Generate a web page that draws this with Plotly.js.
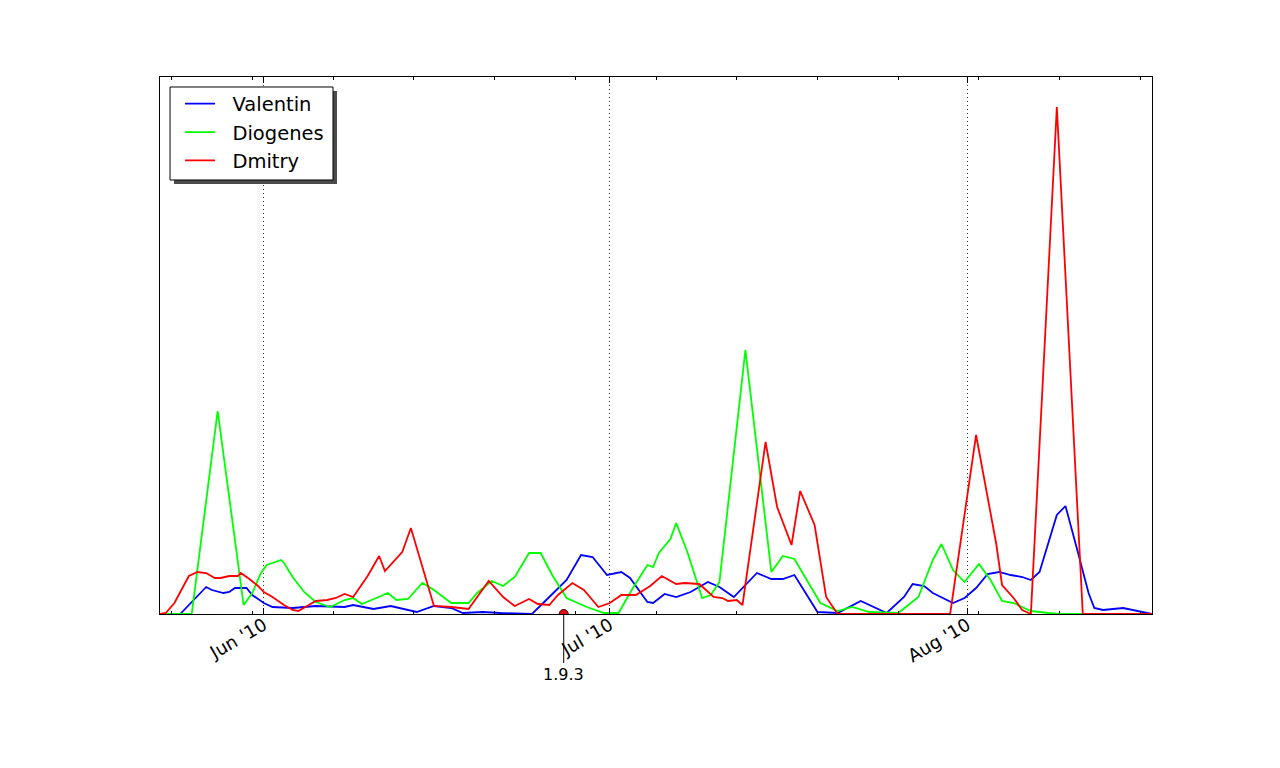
<!DOCTYPE html>
<html>
<head>
<meta charset="utf-8">
<script src="https://cdn.plot.ly/plotly-3.0.1.min.js"></script>
<style>
  html, body { margin: 0; padding: 0; background: #fff; }
  #chart { width: 1280px; height: 768px; }
</style>
</head>
<body>
<div id="chart"></div>
<script>
  // activity per author (no unit shown on the axis)
  var valentinDates = ['2010-05-23 00:00','2010-05-24 18:00','2010-05-27 00:00','2010-05-27 12:00','2010-05-28 12:00','2010-05-29 00:00','2010-05-29 12:00','2010-05-30 12:00','2010-05-31 00:00','2010-06-01 00:00','2010-06-01 18:00','2010-06-03 12:00','2010-06-05 12:00','2010-06-08 00:00','2010-06-08 18:00','2010-06-10 12:00','2010-06-12 00:00','2010-06-13 12:00','2010-06-14 06:00','2010-06-15 18:00','2010-06-17 06:00','2010-06-18 06:00','2010-06-20 00:00','2010-06-21 12:00','2010-06-24 06:00','2010-06-25 18:00','2010-06-27 06:00','2010-06-28 12:00','2010-06-29 12:00','2010-06-30 18:00','2010-07-02 00:00','2010-07-02 18:00','2010-07-04 06:00','2010-07-04 18:00','2010-07-05 18:00','2010-07-06 18:00','2010-07-08 00:00','2010-07-09 12:00','2010-07-10 12:00','2010-07-11 18:00','2010-07-12 12:00','2010-07-13 18:00','2010-07-15 00:00','2010-07-16 00:00','2010-07-17 00:00','2010-07-19 00:00','2010-07-20 18:00','2010-07-22 18:00','2010-07-25 00:00','2010-07-26 12:00','2010-07-27 06:00','2010-07-28 06:00','2010-07-29 00:00','2010-07-30 18:00','2010-07-31 18:00','2010-08-01 18:00','2010-08-02 18:00','2010-08-03 18:00','2010-08-04 18:00','2010-08-05 18:00','2010-08-06 12:00','2010-08-07 06:00','2010-08-08 18:00','2010-08-09 12:00','2010-08-10 12:00','2010-08-11 12:00','2010-08-12 00:00','2010-08-12 18:00','2010-08-14 12:00','2010-08-16 12:00','2010-08-17 00:00'];
  var valentinValues = [0,0,27,24,21,22,26,26,19,11,7,6,8,7,9,5,8,4,2,8,6,1,2,1,0,17,34,59,57,39,42,36,12,11,20,17,22,32,27,17,26,41,35,35,39,2,1,13,1,17,30,28,21,11,16,26,40,42,39,37,34,42,99,108,65,21,6,4,6,1,0];

  var diogenesDates = ['2010-05-23 00:00','2010-05-25 18:00','2010-05-28 00:00','2010-05-30 06:00','2010-05-31 00:00','2010-05-31 18:00','2010-06-01 06:00','2010-06-02 12:00','2010-06-02 18:00','2010-06-03 12:00','2010-06-04 12:00','2010-06-05 12:00','2010-06-06 18:00','2010-06-08 00:00','2010-06-08 18:00','2010-06-09 12:00','2010-06-10 18:00','2010-06-11 18:00','2010-06-12 12:00','2010-06-13 12:00','2010-06-14 18:00','2010-06-15 18:00','2010-06-17 06:00','2010-06-18 18:00','2010-06-19 12:00','2010-06-20 18:00','2010-06-21 18:00','2010-06-22 18:00','2010-06-24 00:00','2010-06-25 00:00','2010-06-26 00:00','2010-06-27 06:00','2010-06-29 00:00','2010-06-30 12:00','2010-07-01 18:00','2010-07-03 00:00','2010-07-04 06:00','2010-07-04 18:00','2010-07-05 06:00','2010-07-06 06:00','2010-07-06 18:00','2010-07-07 18:00','2010-07-09 00:00','2010-07-09 18:00','2010-07-10 12:00','2010-07-12 18:00','2010-07-15 00:00','2010-07-16 00:00','2010-07-17 00:00','2010-07-19 06:00','2010-07-20 18:00','2010-07-22 00:00','2010-07-23 12:00','2010-07-26 00:00','2010-07-27 18:00','2010-07-29 00:00','2010-07-29 18:00','2010-07-30 18:00','2010-07-31 18:00','2010-08-02 00:00','2010-08-03 00:00','2010-08-04 00:00','2010-08-05 00:00','2010-08-06 12:00','2010-08-08 00:00','2010-08-09 00:00','2010-08-17 00:00'];
  var diogenesValues = [0,0,203,9,21,41,49,54,51,37,22,12,7,14,16,10,16,21,14,15,31,24,11,11,21,33,28,37,61,61,39,16,7,1,1,26,49,47,61,75,91,61,16,19,32,264,42,58,55,11,3,7,2,1,17,54,70,44,32,50,34,13,11,3,1,0,0];

  var dmitryDates = ['2010-05-23 00:00','2010-05-23 12:00','2010-05-24 06:00','2010-05-25 12:00','2010-05-26 06:00','2010-05-27 00:00','2010-05-27 18:00','2010-05-28 06:00','2010-05-29 00:00','2010-05-29 18:00','2010-05-30 00:00','2010-05-30 18:00','2010-05-31 12:00','2010-06-01 00:00','2010-06-01 18:00','2010-06-02 18:00','2010-06-03 12:00','2010-06-04 00:00','2010-06-04 18:00','2010-06-05 12:00','2010-06-06 12:00','2010-06-07 06:00','2010-06-08 00:00','2010-06-08 18:00','2010-06-10 00:00','2010-06-11 00:00','2010-06-11 12:00','2010-06-13 00:00','2010-06-13 18:00','2010-06-15 18:00','2010-06-17 06:00','2010-06-18 18:00','2010-06-20 12:00','2010-06-21 18:00','2010-06-22 18:00','2010-06-24 00:00','2010-06-24 18:00','2010-06-25 18:00','2010-06-26 12:00','2010-06-27 18:00','2010-06-28 18:00','2010-06-30 00:00','2010-07-01 00:00','2010-07-02 00:00','2010-07-03 06:00','2010-07-04 12:00','2010-07-05 12:00','2010-07-06 18:00','2010-07-07 12:00','2010-07-08 18:00','2010-07-10 00:00','2010-07-10 18:00','2010-07-11 06:00','2010-07-12 00:00','2010-07-12 12:00','2010-07-14 12:00','2010-07-15 12:00','2010-07-16 18:00','2010-07-17 12:00','2010-07-18 18:00','2010-07-19 18:00','2010-07-20 18:00','2010-07-30 12:00','2010-08-01 18:00','2010-08-03 12:00','2010-08-04 00:00','2010-08-05 00:00','2010-08-05 18:00','2010-08-06 12:00','2010-08-08 18:00','2010-08-11 00:00','2010-08-17 00:00'];
  var dmitryValues = [0,1,11,38,42,41,36,36,38,38,41,35,28,22,17,9,4,3,8,13,14,16,20,17,38,58,43,62,86,8,7,5,33,17,8,15,10,9,19,31,24,7,11,19,19,28,38,30,31,30,17,16,13,14,9,172,107,69,123,89,17,0,0,179,70,29,16,4,0,507,0,0];

  var releaseDates = ['2010-06-27'];
  var releaseLabels = ['1.9.3'];

  var xRange = ['2010-05-23', '2010-08-17'];
  var yRange = [0, 537];

  var font = 'DejaVu Sans, sans-serif';
  var pad = '\u00a0\u00a0';

  var traces = [
    { x: valentinDates, y: valentinValues, name: pad + 'Valentin', type: 'scatter', mode: 'lines',
      line: { color: '#0000ff', width: 1.8 } },
    { x: diogenesDates, y: diogenesValues, name: pad + 'Diogenes', type: 'scatter', mode: 'lines',
      line: { color: '#00ff00', width: 1.8 } },
    { x: dmitryDates, y: dmitryValues, name: pad + 'Dmitry', type: 'scatter', mode: 'lines',
      line: { color: '#ff0000', width: 1.8 } },
    { x: releaseDates, y: releaseDates.map(function () { return 0; }), type: 'scatter', mode: 'markers',
      showlegend: false, hoverinfo: 'skip',
      marker: { color: '#e01010', size: 9, line: { color: '#400000', width: 1 } } }
  ];

  var annotations = releaseDates.map(function (d, i) {
    return {
      x: d, y: 0, xref: 'x', yref: 'y', text: releaseLabels[i],
      showarrow: true, arrowhead: 0, arrowwidth: 1, arrowcolor: '#000',
      ax: 0, ay: 60, standoff: 0,
      font: { family: font, size: 16, color: '#000' }
    };
  });

  var layout = {
    width: 1280, height: 768,
    margin: { l: 160, r: 128, t: 77, b: 154 },
    paper_bgcolor: '#fff', plot_bgcolor: '#fff',
    font: { family: font, color: '#000' },
    showlegend: true,
    legend: {
      x: 0.0202, y: 0.986, xanchor: 'left', yanchor: 'top',
      bgcolor: 'rgba(0,0,0,0)', borderwidth: 0,
      font: { family: font, size: 19.5, color: '#000' },
      tracegroupgap: 0
    },
    xaxis: {
      type: 'date', range: xRange,
      tick0: '2010-06-01', dtick: 'M1', tickformat: "%b '%y",
      ticks: 'inside', ticklen: 6, tickcolor: '#000', tickangle: -30,
      ticklabelstandoff: -7,
      tickfont: { family: font, size: 18, color: '#000' },
      showgrid: true, gridcolor: '#000', gridwidth: 0.8, griddash: '1px,3px',
      showline: true, linecolor: '#000', linewidth: 1, mirror: 'ticks',
      zeroline: false,
      minor: { tick0: '2010-05-24', dtick: 7 * 86400000, ticks: 'inside', ticklen: 3,
               tickcolor: '#000', showgrid: false }
    },
    yaxis: {
      range: yRange, showticklabels: false, ticks: '', showgrid: false,
      zeroline: false, showline: true, linecolor: '#000', linewidth: 1, mirror: true
    },
    shapes: [
      // legend shadow and frame
      { type: 'rect', xref: 'paper', yref: 'paper', layer: 'above',
        x0: 0.0141, x1: 0.1784, y0: 0.8007, y1: 0.9739,
        fillcolor: '#4a4a4a', line: { width: 0 } },
      { type: 'rect', xref: 'paper', yref: 'paper', layer: 'above',
        x0: 0.0101, x1: 0.1744, y0: 0.8082, y1: 0.9814,
        fillcolor: '#fff', line: { color: '#000', width: 1 } }
    ],
    annotations: annotations
  };

  Plotly.newPlot('chart', traces, layout, { staticPlot: true });
</script>
</body>
</html>
